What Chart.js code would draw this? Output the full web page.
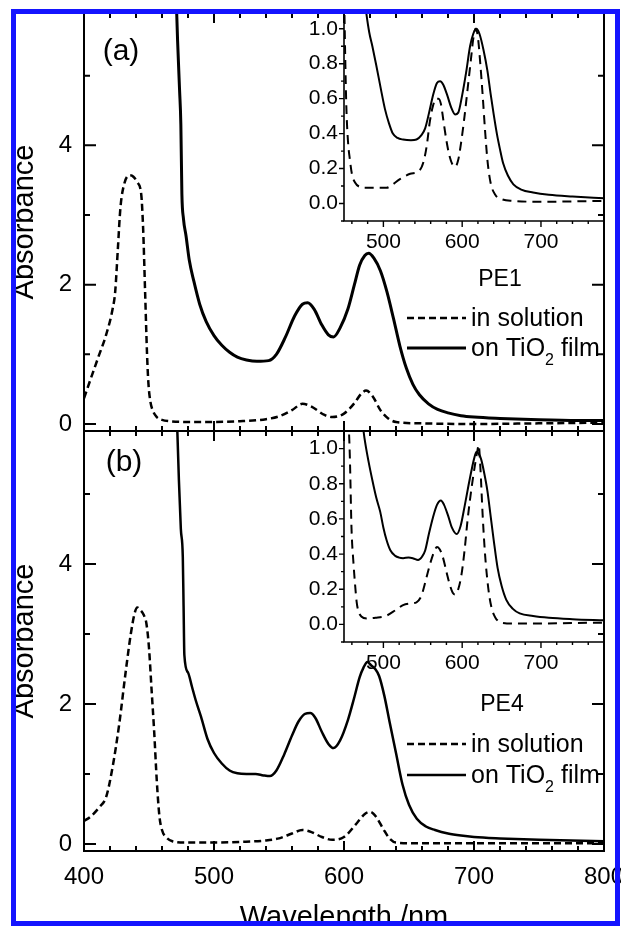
<!DOCTYPE html>
<html><head><meta charset="utf-8">
<script src="https://cdn.jsdelivr.net/npm/chart.js@4.4.1/dist/chart.umd.min.js"></script>
<style>
html,body{margin:0;padding:0;background:#fff;overflow:hidden;width:621px;height:926px;}
body{position:relative;}
canvas{position:absolute;display:block;}
#frame{position:absolute;left:11px;top:9px;width:609px;height:917px;border:5px solid #1414ff;box-sizing:border-box;z-index:10;}
</style></head><body>
<canvas id="mainA" width="621" height="440" style="left:0;top:0"></canvas>
<canvas id="mainB" width="621" height="560" style="left:0;top:400px"></canvas>
<canvas id="insA" width="341" height="260" style="left:280px;top:0"></canvas>
<canvas id="insB" width="341" height="260" style="left:280px;top:420px"></canvas>
<div id="frame"></div>
<script>
// ---------- tick labels / text ----------
const mainXTicks = [400, 500, 600, 700, 800];
const mainYTicks = [0, 2, 4];
const insetXTicks = [500, 600, 700];
const insetYTicks = [0.0, 0.2, 0.4, 0.6, 0.8, 1.0];
const legendLabels = ['in solution', 'on TiO_2 film'];
const panelNames = ['PE1', 'PE4'];
const panelTags = ['(a)', '(b)'];

// ---------- panel (a), PE1 main ----------
const solA_wl = [400,405,411,417,422,424,426,428,431,435,438,441,444,445.5,447,448.5,449.5,451,453,456,460,466,480,500,520,540,550,560,568,575,585,591,600,608,613,617,622,628,634,640,660,700,750,800];
const solA_abs = [0.37,0.64,0.96,1.28,1.65,1.9,2.5,3.1,3.45,3.57,3.55,3.47,3.3,2.8,1.9,1.0,0.6,0.33,0.19,0.1,0.06,0.04,0.03,0.03,0.04,0.07,0.11,0.2,0.29,0.25,0.13,0.1,0.15,0.3,0.43,0.48,0.4,0.2,0.08,0.03,0.01,0.0,0.01,0.02];
const filmA_wl = [470.8,472,473.5,474.5,475.3,476.5,478.5,481,484.5,489,494,500,506,512,518,525,533,542,548,555,562,568,572,577,583,588,592,597,603,608,612,616,619,623,628,633,638,643,648,653,658,665,672,680,690,700,720,750,780,800];
const filmA_abs = [6.2,5.5,4.8,4.3,3.3,2.95,2.7,2.35,2.05,1.72,1.47,1.27,1.13,1.03,0.96,0.92,0.9,0.91,1.0,1.25,1.55,1.72,1.74,1.65,1.42,1.28,1.25,1.38,1.65,2.0,2.28,2.42,2.45,2.38,2.2,1.9,1.52,1.12,0.8,0.57,0.42,0.29,0.21,0.16,0.12,0.1,0.08,0.06,0.05,0.05];

// ---------- panel (a) inset, normalized ----------
const insSolA_wl = [450,451.5,453,455,457.5,460,464,470,477,490,504,512,521,534,546,551,555,559,563,567,570,573,576,580,584,588,591,595,599,603,607,611,614,617,620,623,626,629,632,636,642,650,665,700,740,780];
const insSolA_abs = [1.25,0.85,0.55,0.36,0.25,0.17,0.12,0.095,0.09,0.09,0.09,0.11,0.14,0.17,0.19,0.24,0.33,0.47,0.56,0.6,0.6,0.57,0.48,0.36,0.27,0.22,0.21,0.25,0.36,0.5,0.66,0.82,0.94,1.0,0.95,0.8,0.62,0.42,0.25,0.12,0.05,0.025,0.015,0.01,0.012,0.015];
const insFilmA_wl = [474,478,482,486,491,497,502,507,512,518,525,535,542,548,553,558,563,568,572,576,581,586,591,595,600,605,610,614,618,622,627,632,636,640,644,648,652,658,665,675,690,710,740,780];
const insFilmA_abs = [1.25,1.1,0.98,0.9,0.79,0.65,0.54,0.46,0.40,0.375,0.366,0.362,0.366,0.39,0.43,0.52,0.62,0.69,0.70,0.68,0.62,0.55,0.51,0.52,0.62,0.75,0.9,0.97,1.0,0.97,0.88,0.76,0.63,0.51,0.40,0.31,0.23,0.16,0.11,0.08,0.063,0.05,0.04,0.03];

// ---------- panel (b), PE4 main ----------
const solB_wl = [400,405,412,417,422,427,432,436,439,441,443,446,448,450,452,454,456,458,460,463,468,478,500,520,540,550,560,568,575,583,591,600,610,616,620,625,630,635,640,660,700,800];
const solB_abs = [0.33,0.39,0.53,0.67,1.1,1.7,2.45,3.0,3.3,3.38,3.35,3.27,3.15,2.8,2.2,1.6,0.9,0.4,0.2,0.1,0.04,0.02,0.02,0.03,0.05,0.08,0.15,0.2,0.17,0.1,0.06,0.1,0.3,0.43,0.46,0.38,0.22,0.08,0.02,0.01,0.01,0.01];
const filmB_wl = [471.3,473,474.5,476,476.6,477.2,480,483,486,490,495,500,506,512,518,525,532,538,543,548,554,560,565,570,574,578,583,588,592,597,603,608,612,615,618,621,624,627,631,635,640,645,650,656,663,670,680,690,700,720,750,800];
const filmB_abs = [6.2,5.2,4.5,4.1,3.4,2.7,2.45,2.25,2.05,1.82,1.5,1.3,1.15,1.05,1.01,1.0,1.0,0.98,0.97,1.05,1.28,1.55,1.75,1.86,1.87,1.8,1.6,1.43,1.37,1.48,1.77,2.1,2.38,2.52,2.6,2.55,2.5,2.4,2.12,1.75,1.3,0.85,0.56,0.36,0.25,0.2,0.15,0.12,0.1,0.08,0.06,0.04];

// ---------- panel (b) inset, normalized ----------
const insSolB_wl = [455,457.5,459.5,462,464,466,468,472,479,490,504,515,525,535,542,548,552,556,561,565,568,571,575,580,584,588,591,595,599,603,607,612,616,619,621,623,626,629,633,637,642,650,665,700,740,780];
const insSolB_abs = [1.25,0.94,0.55,0.35,0.23,0.13,0.08,0.045,0.034,0.038,0.05,0.08,0.11,0.12,0.126,0.16,0.22,0.29,0.37,0.42,0.44,0.43,0.39,0.3,0.23,0.18,0.17,0.2,0.28,0.42,0.6,0.78,0.9,0.98,1.02,0.9,0.62,0.4,0.21,0.1,0.04,0.01,0.005,0.005,0.008,0.01];
const insFilmB_wl = [472,476,481,486,491,496,500,504,509,515,520,525,532,538,544,549,553,558,563,568,573,577,582,587,593,598,603,608,612,615,618,621,624,628,632,636,640,645,650,656,664,673,690,710,740,780];
const insFilmB_abs = [1.2,1.06,0.93,0.82,0.72,0.64,0.55,0.48,0.42,0.39,0.38,0.377,0.38,0.375,0.366,0.385,0.42,0.52,0.61,0.68,0.705,0.68,0.62,0.55,0.514,0.56,0.67,0.79,0.88,0.94,0.98,0.97,0.94,0.86,0.76,0.62,0.48,0.32,0.22,0.14,0.09,0.063,0.048,0.038,0.03,0.023];

// ---------- helpers ----------
const FONT = '"Liberation Sans", Arial, Helvetica, sans-serif';
const pts = (wl, ab) => wl.map((x, i) => ({x: x, y: ab[i]}));
function seq(min, max, step) { const r = []; const s = Math.ceil(min / step - 1e-9), e = Math.floor(max / step + 1e-9); for (let k = s; k <= e; k++) r.push(k * step); return r; }
function isMul(v, step) { const q = v / step; return Math.abs(q - Math.round(q)) < 1e-6; }

const deco = {
  id: 'deco',
  afterDatasetsDraw(chart, args, o) {
    const {ctx, chartArea: a, scales} = chart; const x = scales.x, y = scales.y;
    ctx.save(); ctx.strokeStyle = '#000'; ctx.lineWidth = o.lw; ctx.lineCap = 'butt'; ctx.setLineDash([]);
    ctx.beginPath();
    if (o.frame.includes('left')) { ctx.moveTo(a.left, a.top - o.lw/2); ctx.lineTo(a.left, a.bottom + o.lw/2); }
    if (o.frame.includes('right')) { ctx.moveTo(a.right, a.top - o.lw/2); ctx.lineTo(a.right, a.bottom + o.lw/2); }
    if (o.frame.includes('top')) { ctx.moveTo(a.left - o.lw/2, a.top); ctx.lineTo(a.right + o.lw/2, a.top); }
    if (o.frame.includes('bottom')) { ctx.moveTo(a.left - o.lw/2, a.bottom); ctx.lineTo(a.right + o.lw/2, a.bottom); }
    ctx.stroke();
    ctx.lineWidth = o.tw; ctx.beginPath();
    const sgn = o.dir === 'in' ? 1 : -1;
    for (const side of o.tickSides) {
      if (side === 'left' || side === 'right') {
        for (const v of seq(y.min, y.max, o.yMinor)) {
          const len = isMul(v, o.yMajor) ? o.yMaj : o.yMin; const py = y.getPixelForValue(v);
          const x0 = side === 'left' ? a.left : a.right; const d = (side === 'left' ? 1 : -1) * sgn;
          ctx.moveTo(x0, py); ctx.lineTo(x0 + d * len, py);
        }
      } else {
        for (const v of seq(x.min, x.max, o.xMinor)) {
          const len = isMul(v, o.xMajor) ? o.xMaj : o.xMin; const px = x.getPixelForValue(v);
          const y0 = side === 'top' ? a.top : a.bottom; const d = (side === 'top' ? 1 : -1) * sgn;
          ctx.moveTo(px, y0); ctx.lineTo(px, y0 + d * len);
        }
      }
    }
    ctx.stroke(); ctx.restore();
  }
};

function drawRich(ctx, s, x, y, size) {
  const parts = s.split(/_(\d)/);
  ctx.textAlign = 'left'; ctx.textBaseline = 'alphabetic';
  parts.forEach((p, i) => {
    const sub = i % 2 === 1;
    ctx.font = (sub ? Math.round(size * 0.64) : size) + 'px ' + FONT;
    ctx.fillText(p, x, y + (sub ? size * 0.36 : 0));
    x += ctx.measureText(p).width;
  });
}

const notes = {
  id: 'notes',
  afterDraw(chart, args, o) {
    const ctx = chart.ctx; ctx.save(); ctx.fillStyle = '#000';
    for (const it of o.texts) {
      ctx.font = it.size + 'px ' + FONT; ctx.textAlign = 'center'; ctx.textBaseline = 'middle';
      ctx.fillText(it.t, it.x, it.y - o.dy);
    }
    const L = o.legend;
    L.rows.forEach(r => {
      const ds = chart.data.datasets[r.ds];
      ctx.strokeStyle = '#000'; ctx.lineWidth = ds.borderWidth; ctx.setLineDash(ds.borderDash || []);
      ctx.beginPath(); ctx.moveTo(L.x0, r.y - o.dy); ctx.lineTo(L.x1, r.y - o.dy); ctx.stroke();
      ctx.setLineDash([]);
      drawRich(ctx, ds.label, L.tx, r.y - o.dy + L.base, L.size);
    });
    ctx.restore();
  }
};

function ds(label, wl, ab, width, dash) {
  return {label: label, data: pts(wl, ab), borderColor: '#000', backgroundColor: '#000', borderWidth: width,
    borderDash: dash, pointRadius: 0, fill: false, cubicInterpolationMode: 'monotone', borderJoinStyle: 'round'};
}

const noGrid = {display: false, drawTicks: false, tickLength: 0};

function mainY() {
  return {
    type: 'linear', min: -0.1, max: 5.9, position: 'left',
    grid: noGrid, border: {display: false},
    ticks: {font: {family: FONT, size: 24}, color: '#000', padding: 12, autoSkip: false},
    afterBuildTicks: s => { s.ticks = mainYTicks.map(v => ({value: v})); },
    afterFit: s => { s.width = 84; s.paddingTop = 0; s.paddingBottom = 0; },
    title: {display: true, text: 'Absorbance', font: {family: FONT, size: 29}, color: '#000', padding: {top: 8, bottom: 0}}
  };
}
const mainDeco = {frame: ['left', 'right', 'top', 'bottom'], lw: 2, tw: 2, dir: 'in',
  tickSides: ['left', 'right', 'top', 'bottom'], yMinor: 1, yMajor: 2, yMaj: 12, yMin: 6,
  xMinor: 20, xMajor: 100, xMaj: 10, xMin: 5};

// ---------- main (a) ----------
new Chart(document.getElementById('mainA'), {
  type: 'line',
  data: {datasets: [ds(legendLabels[0], solA_wl, solA_abs, 2.5, [7, 4]), ds(legendLabels[1], filmA_wl, filmA_abs, 3, [])]},
  options: {
    responsive: false, animation: false, events: [], devicePixelRatio: 1,
    layout: {padding: {left: 0, top: 13, right: 17, bottom: 9}},
    scales: {x: {type: 'linear', min: 400, max: 800, display: false}, y: mainY()},
    plugins: {legend: {display: false}, tooltip: {enabled: false},
      deco: mainDeco,
      notes: {dy: 0, texts: [{t: panelTags[0], x: 121, y: 52, size: 30}, {t: panelNames[0], x: 500, y: 280, size: 23}],
        legend: {x0: 407, x1: 466, tx: 471, base: 8, size: 25, rows: [{ds: 0, y: 318}, {ds: 1, y: 348}]}}}
  },
  plugins: [deco, notes]
});

// ---------- main (b) ----------
new Chart(document.getElementById('mainB'), {
  type: 'line',
  data: {datasets: [ds(legendLabels[0], solB_wl, solB_abs, 2.5, [7, 4]), ds(legendLabels[1], filmB_wl, filmB_abs, 2.5, [])]},
  options: {
    responsive: false, animation: false, events: [], devicePixelRatio: 1,
    layout: {padding: {left: 0, top: 31, right: 17, bottom: 0}},
    scales: {
      x: {type: 'linear', min: 400, max: 800, position: 'bottom',
        grid: noGrid, border: {display: false},
        ticks: {font: {family: FONT, size: 24}, color: '#000', padding: 12, autoSkip: false, maxRotation: 0},
        afterBuildTicks: s => { s.ticks = mainXTicks.map(v => ({value: v})); },
        afterFit: s => { s.height = 109; s.paddingLeft = 0; s.paddingRight = 0; },
        title: {display: true, text: 'Wavelength /nm', font: {family: FONT, size: 29}, color: '#000', padding: {top: 0, bottom: 25}}},
      y: mainY()
    },
    plugins: {legend: {display: false}, tooltip: {enabled: false},
      deco: mainDeco,
      notes: {dy: 400, texts: [{t: panelTags[1], x: 124, y: 463, size: 30}, {t: panelNames[1], x: 502, y: 705, size: 23}],
        legend: {x0: 407, x1: 466, tx: 471, base: 8, size: 25, rows: [{ds: 0, y: 744}, {ds: 1, y: 775}]}}}
  },
  plugins: [deco, notes]
});

// ---------- insets ----------
function insetChart(id, solWl, solAb, filmWl, filmAb, padTop, xh, ymax) {
  new Chart(document.getElementById(id), {
    type: 'line',
    data: {datasets: [ds(legendLabels[0], solWl, solAb, 2, [9, 6]), ds(legendLabels[1], filmWl, filmAb, 2, [])]},
    options: {
      responsive: false, animation: false, events: [], devicePixelRatio: 1,
      layout: {padding: {left: 0, top: padTop, right: 17, bottom: 0}},
      scales: {
        x: {type: 'linear', min: 450, max: 780, position: 'bottom',
          grid: noGrid, border: {display: false},
          ticks: {font: {family: FONT, size: 21}, color: '#000', padding: 9, autoSkip: false, maxRotation: 0},
          afterBuildTicks: s => { s.ticks = insetXTicks.map(v => ({value: v})); },
          afterFit: s => { s.height = xh; s.paddingLeft = 0; s.paddingRight = 0; }},
        y: {type: 'linear', min: -0.1, max: ymax, position: 'left',
          grid: noGrid, border: {display: false},
          ticks: {font: {family: FONT, size: 21}, color: '#000', padding: 6, autoSkip: false,
            callback: v => Number(v).toFixed(1)},
          afterBuildTicks: s => { s.ticks = insetYTicks.map(v => ({value: v})); },
          afterFit: s => { s.width = 64; s.paddingTop = 0; s.paddingBottom = 0; }}
      },
      plugins: {legend: {display: false}, tooltip: {enabled: false},
        deco: {frame: ['left', 'bottom'], lw: 1.6, tw: 1.4, dir: 'out', tickSides: ['left', 'bottom'],
          yMinor: 0.1, yMajor: 0.2, yMaj: 5, yMin: 3, xMinor: 20, xMajor: 100, xMaj: 6, xMin: 3}}
    },
    plugins: [deco]
  });
}
insetChart('insA', insSolA_wl, insSolA_abs, insFilmA_wl, insFilmA_abs, 13, 39, 1.09);
insetChart('insB', insSolB_wl, insSolB_abs, insFilmB_wl, insFilmB_abs, 11, 38, 1.1);
</script>
</body></html>
